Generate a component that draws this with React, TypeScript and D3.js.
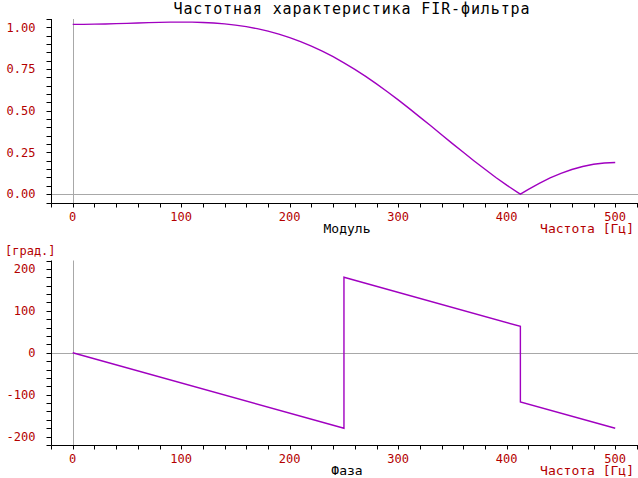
import React from "react";
import * as d3 from "d3";

const magFreq = [0, 10, 20, 30, 40, 50, 60, 70, 80, 90, 100, 110, 120, 130, 140, 150, 160, 170, 180, 190, 200, 210, 220, 230, 240, 250, 260, 270, 280, 290, 300, 310, 320, 330, 340, 350, 360, 370, 380, 390, 400, 410, 412.6, 420, 430, 440, 450, 460, 470, 480, 490, 500];
const magValue = [1.018, 1.018, 1.019, 1.020, 1.022, 1.024, 1.026, 1.028, 1.030, 1.031, 1.031, 1.031, 1.029, 1.026, 1.021, 1.013, 1.004, 0.992, 0.977, 0.959, 0.938, 0.914, 0.887, 0.857, 0.824, 0.787, 0.748, 0.706, 0.661, 0.614, 0.565, 0.514, 0.462, 0.410, 0.356, 0.303, 0.251, 0.199, 0.149, 0.100, 0.054, 0.011, 0.000, 0.029, 0.065, 0.097, 0.125, 0.148, 0.166, 0.179, 0.187, 0.190];

const phaseFreq = [0, 250, 250, 412.6, 412.6, 500];
const phaseValue = [0, -180, 180, 62.9, -117.1, -180];

const xTickLabels = [0, 100, 200, 300, 400, 500];
const magTickLabels = [0, 0.25, 0.5, 0.75, 1.0];
const phaseTickLabels = [-200, -100, 0, 100, 200];

const title = "Частотная характеристика FIR-фильтра";
const magLabel = "Модуль";
const phaseLabel = "Фаза";
const freqLabel = "Частота [Гц]";
const degLabel = "[град.]";

const W = 638;
const H = 478;
const RED = "#b40000";
const CURVE = "#a000c0";
const GRAY = "#a8a8a8";
const FONT = "'DejaVu Sans Mono', 'Liberation Mono', monospace";

const x = d3.scaleLinear().domain([-20, 521]).range([51, 638]);
const yMag = d3.scaleLinear().domain([-0.05, 1.05]).range([202.5, 19]);
const yPh = d3.scaleLinear().domain([-220, 220]).range([445, 260.5]);

const xMinor = d3.range(-20, 521, 20);
const magMinor = d3.range(-5, 106, 5).map((v) => v / 100);
const phMinor = d3.range(-220, 221, 20);

function Panel(props: {
  y: d3.ScaleLinear<number, number>;
  minor: number[];
  labels: number[];
  fmt: (v: number) => string;
  fx: number[];
  fv: number[];
  bottomLabel: string;
  tickBase: number;
  labelBase: number;
}) {
  const { y, minor, labels, fmt, fx, fv, bottomLabel, tickBase, labelBase } = props;
  const [y0, y1] = y.range();
  const axY = Math.round(y0) + 0.5;
  const axX = 51.5;
  const pts: [number, number][] = fx.map((f, i) => [f, fv[i]]);
  const line = d3
    .line<[number, number]>()
    .x((d) => x(d[0]))
    .y((d) => y(d[1]));
  const zx = Math.round(x(0)) + 0.5;
  const zy = Math.round(y(0)) + 0.5;
  return (
    <g>
      <line x1={axX} x2={W} y1={zy} y2={zy} stroke={GRAY} strokeWidth={1} />
      <line x1={zx} x2={zx} y1={y1} y2={axY} stroke={GRAY} strokeWidth={1} />
      <path d={line(pts) || ""} fill="none" stroke={CURVE} strokeWidth={1.4} />
      <line x1={axX} x2={W} y1={axY} y2={axY} stroke="#000" strokeWidth={1} />
      <line x1={axX} x2={axX} y1={y1} y2={axY} stroke="#000" strokeWidth={1} />
      {xMinor.map((t) => (
        <line key={"xt" + t} x1={Math.round(x(t)) + 0.5} x2={Math.round(x(t)) + 0.5} y1={axY} y2={axY + 4} stroke="#000" strokeWidth={1} />
      ))}
      {minor.map((t) => (
        <line key={"yt" + t} x1={axX - 5} x2={axX} y1={Math.round(y(t)) + 0.5} y2={Math.round(y(t)) + 0.5} stroke="#000" strokeWidth={1} />
      ))}
      {xTickLabels.map((t) => (
        <text key={"xl" + t} x={x(t)} y={tickBase} textAnchor="middle" fill={RED} fontSize={12} fontFamily={FONT}>
          {t}
        </text>
      ))}
      {labels.map((t) => (
        <text key={"yl" + t} x={35.5} y={y(t) + 4.3} textAnchor="end" fill={RED} fontSize={12} fontFamily={FONT}>
          {fmt(t)}
        </text>
      ))}
      <text x={347} y={labelBase} textAnchor="middle" fill="#000" fontSize={13} fontFamily={FONT}>
        {bottomLabel}
      </text>
      <text x={634} y={labelBase} textAnchor="end" fill={RED} fontSize={13} fontFamily={FONT}>
        {freqLabel}
      </text>
    </g>
  );
}

export default function App() {
  return (
    <svg
      width={W}
      height={H}
      viewBox={`0 0 ${W} ${H}`}
      style={{ position: "absolute", left: 0, top: 0, background: "#fff" }}
    >
      <rect width={W} height={H} fill="#fff" />
      <text x={173.5} y={13.5} fill="#000" fontSize={15} fontFamily={FONT} textLength={356} lengthAdjust="spacing">
        {title}
      </text>
      <Panel
        y={yMag}
        minor={magMinor}
        labels={magTickLabels}
        fmt={(v) => d3.format(".2f")(v)}
        fx={magFreq}
        fv={magValue}
        bottomLabel={magLabel}
        tickBase={221}
        labelBase={233}
      />
      <text x={5} y={254.5} fill={RED} fontSize={12} fontFamily={FONT}>
        {degLabel}
      </text>
      <Panel
        y={yPh}
        minor={phMinor}
        labels={phaseTickLabels}
        fmt={(v) => String(v)}
        fx={phaseFreq}
        fv={phaseValue}
        bottomLabel={phaseLabel}
        tickBase={462.5}
        labelBase={474.5}
      />
    </svg>
  );
}
